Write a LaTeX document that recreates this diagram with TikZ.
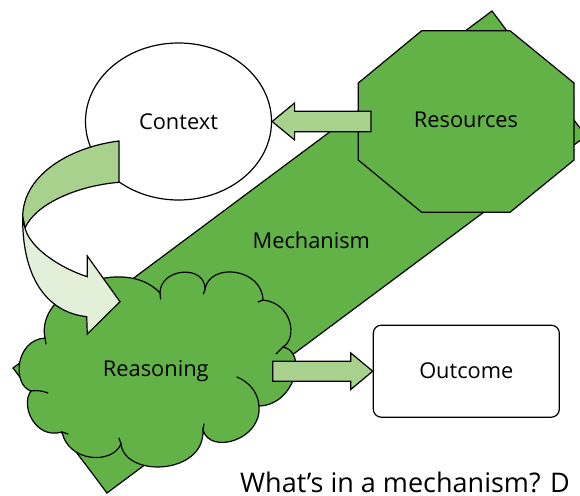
\documentclass[tikz,border=0pt]{standalone}
\usepackage{fontspec}
\setmainfont{Open Sans}
\usetikzlibrary{shapes.geometric,calc}
\definecolor{mgreen}{HTML}{62B248}
\definecolor{lgreen}{HTML}{A9D18E}
\definecolor{pgreen}{HTML}{E2F0D9}
\begin{document}
\begin{tikzpicture}[x=1pt,y=-1pt,
  shapeline/.style={draw=black, line width=1.2pt, line join=miter},
  lbl/.style={font=\fontsize{21.8}{26}\selectfont, text height=15.5pt, text depth=0pt, inner sep=0pt},
  stub/.style={draw=black, line width=1.2pt, line cap=round}]
\useasboundingbox (0,0) rectangle (580,495);
\clip (0,0) rectangle (580,495);

% Mechanism (rotated rectangle)
\path[shapeline, fill=mgreen] (13,368) -- (492,11) -- (586,136) -- (107,493) -- cycle;
\node[lbl] (mech) at (311.3,240.6) {Mechanism};

% Context
\node[shapeline, fill=white, ellipse, minimum width=186pt, minimum height=157pt, lbl] (ctx) at (178.5,121.5) {Context};

% Resources (octagon)
\path[shapeline, fill=mgreen] (421.7,30.7) -- (510,30.7) -- (574,83) -- (574,160) -- (510,212.3)
  -- (421.7,212.3) -- (358.3,160) -- (358.3,83) -- cycle;
\node[lbl] (res) at (466,120) {Resources};

% arrow Resources -> Context
\coordinate (a1tip) at (ctx.east);
\coordinate (a1tail) at (371,121.5);
\path[shapeline, fill=lgreen] (a1tip) -- ($(a1tip)+(22.5,-18.5)$) -- ($(a1tip)+(22.5,-10.3)$)
  -- ($(a1tail)+(0,-10.3)$) -- ($(a1tail)+(0,10.3)$) -- ($(a1tip)+(22.5,10.3)$)
  -- ($(a1tip)+(22.5,18.5)$) -- cycle;

% Reasoning (cloud)
\path[shapeline, fill=mgreen] (45,338)
  .. controls (35,290) and (125,255) .. (160,293)
  .. controls (160,268) and (205,264) .. (205,289)
  .. controls (210,262) and (262,268) .. (263,300)
  .. controls (292,303) and (298,338) .. (283,347)
  .. controls (308,352) and (295,405) .. (259,406)
  .. controls (262,440) and (210,455) .. (203,430)
  .. controls (205,475) and (125,478) .. (121,444)
  .. controls (112,465) and (68,462) .. (62,432)
  .. controls (35,440) and (20,405) .. (31,391)
  .. controls (12,385) and (15,340) .. (45,338) -- cycle;
\draw[stub] (259,406) .. controls (258,392) and (249,382) .. (237,377);
\draw[stub] (31,391) .. controls (37,390) and (43,391) .. (48,393);
\draw[stub] (160,293) -- (160.5,299);
\draw[stub] (205,289) -- (203.5,294);
\draw[stub] (263,300) -- (258,302);
\draw[stub] (283,347) -- (276,354);
\draw[stub] (203,430) -- (204,424);
\draw[stub] (121,444) -- (119,438);
\draw[stub] (62,432) -- (68,434);
\draw[stub] (45,338) -- (46,344);
\node[lbl] (reas) at (155.8,369) {Reasoning};

% curved arrow Context -> Reasoning
\path[shapeline, fill=lgreen] (119,141) .. controls (70,147) and (23,175) .. (22.7,216.7)
  -- (25,228) .. controls (35,205) and (75,186) .. (119,182.3) -- cycle;
\path[shapeline, fill=pgreen] (22.7,216.7) .. controls (22,275) and (45,312) .. (86.7,316.7)
  -- (87.3,334) -- (120,301.7) -- (87.3,256) -- (87.3,276.7)
  .. controls (60,268) and (30,248) .. (25,228) -- cycle;

% Outcome
\node[shapeline, fill=white, rounded corners=8pt, minimum width=186pt, minimum height=92pt, lbl] (outc) at (466.3,371.2) {Outcome};

% arrow Reasoning -> Outcome
\coordinate (a2tip) at (outc.west);
\coordinate (a2tail) at (272.7,371.2);
\path[shapeline, fill=lgreen] (a2tip) -- ($(a2tip)+(-22,-18.3)$) -- ($(a2tip)+(-22,-10)$)
  -- ($(a2tail)+(0,-10)$) -- ($(a2tail)+(0,10)$) -- ($(a2tip)+(-22,10)$)
  -- ($(a2tip)+(-22,18.3)$) -- cycle;

% caption
\node[font=\fontsize{27}{32}\selectfont, anchor=base west, inner sep=0pt] (cap) at (240,492.3) {What’s in a mechanism? D};
\end{tikzpicture}
\end{document}
